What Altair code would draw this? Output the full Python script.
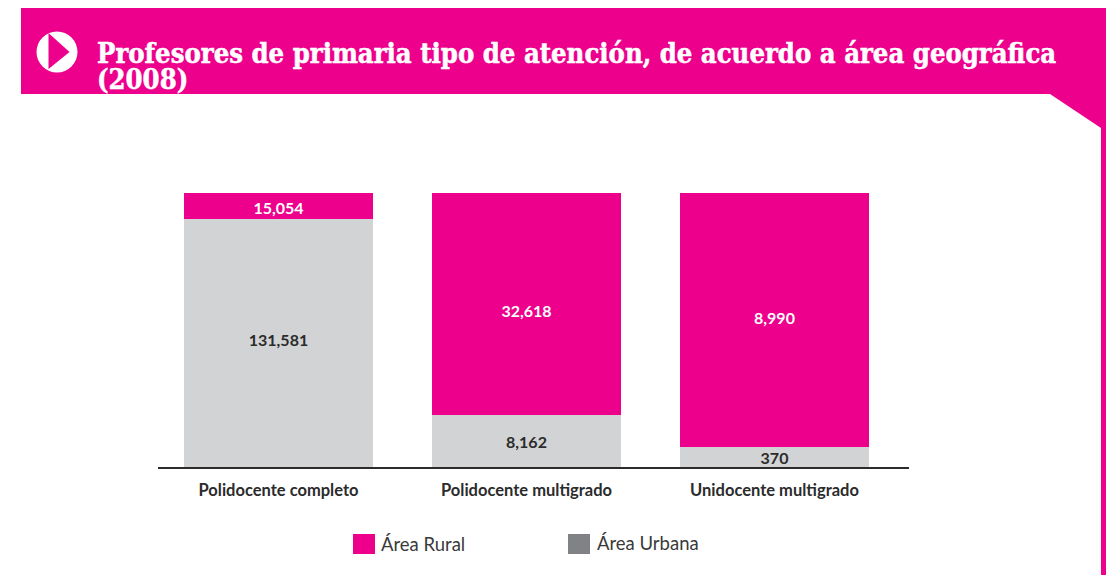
import altair as alt
import pandas as pd

categories = ["Polidocente completo", "Polidocente multigrado", "Unidocente multigrado"]
rural_share = [9.5, 81.0, 92.7]
urban_share = [90.5, 19.0, 7.3]
rural_labels = ["15,054", "32,618", "8,990"]
urban_labels = ["131,581", "8,162", "370"]
title_lines = ["Profesores de primaria tipo de atención, de acuerdo a área geográfica", "(2008)"]
legend_names = ["Área Rural", "Área Urbana"]

PINK = "#ec008c"
BAR_GREY = "#d1d3d4"
LEGEND_GREY = "#808285"
INK = "#2b2b2b"
OX, OY = 8, 8
W, H = 1098, 567
BASE, TOP = 467 - OY, 193 - OY
PX_TO_SHARE = 100 / (BASE - TOP)
rural_nudge_px = [-3, -8, 1]
urban_nudge_px = [2, -2, -2]


def rect(x, x2, y, y2, color):
    return alt.Chart(pd.DataFrame({"a": [0]})).mark_rect(color=color).encode(
        x=alt.value(x - OX), x2=alt.value(x2 - OX), y=alt.value(y - OY), y2=alt.value(y2 - OY))


def wedge(pts, color):
    df = pd.DataFrame(pts, columns=["x", "y", "y2"])
    df["x"] -= OX
    df["y"] -= OY
    df["y2"] -= OY
    return alt.Chart(df).mark_area(color=color, opacity=1).encode(
        x=alt.X("x:Q", scale=None, axis=None),
        y=alt.Y("y:Q", scale=None, axis=None),
        y2="y2:Q")


def label(txt, x, y, size, color, font="Lato", weight="normal", stroke=None, sw=0):
    kw = dict(stroke=stroke, strokeWidth=sw) if stroke else {}
    return alt.Chart(pd.DataFrame({"t": [txt]})).mark_text(
        font=font, fontSize=size, fontWeight=weight, color=color, align="left", baseline="alphabetic", **kw
    ).encode(x=alt.value(x - OX), y=alt.value(y - OY), text="t:N")


header = rect(21, 1114, 8, 94, PINK)
band = rect(1101, 1114, 94, 583, PINK)
corner = wedge([(1050, 94, 94), (1101, 128, 94)], PINK)
icon_disc = alt.Chart(pd.DataFrame({"a": [0]})).mark_point(
    filled=True, color="white", opacity=1, size=1681, shape="circle"
).encode(x=alt.value(57 - OX), y=alt.value(52 - OY))
icon_tri = wedge([(48.5, 33, 69), (69.5, 52, 52)], PINK)
t1 = label(title_lines[0], 97, 63, 27.2, "white", font="DejaVu Serif Condensed", weight="bold", stroke="white", sw=0.5)
t2 = label(title_lines[1], 97, 89, 27.2, "white", font="DejaVu Serif Condensed", weight="bold", stroke="white", sw=0.5)

rows = []
for c, r, u, rl, ul, rn, un in zip(categories, rural_share, urban_share, rural_labels, urban_labels,
                                    rural_nudge_px, urban_nudge_px):
    rows.append(dict(cat=c, area=legend_names[0], share=r, lab=rl, mid=u + r / 2 + rn * PX_TO_SHARE, order=2))
    rows.append(dict(cat=c, area=legend_names[1], share=u, lab=ul, mid=u / 2 + un * PX_TO_SHARE, order=1))
df = pd.DataFrame(rows)

xscale = alt.Scale(type="band", domain=categories, range=[184 - OX, 869 - OX], paddingInner=59 / 248, paddingOuter=0)
yscale = alt.Scale(domain=[0, 100], range=[BASE, TOP])
x = alt.X("cat:N", scale=xscale, axis=None, sort=categories)

bars = alt.Chart(df).mark_bar(size=189).encode(
    x=x,
    y=alt.Y("share:Q", scale=yscale, axis=None, stack="zero"),
    order=alt.Order("order:Q"),
    color=alt.Color("area:N", legend=None,
                    scale=alt.Scale(domain=legend_names, range=[PINK, BAR_GREY])),
)
values = alt.Chart(df).mark_text(font="Lato", fontSize=16, fontWeight="bold").encode(
    x=x,
    y=alt.Y("mid:Q", scale=yscale, axis=None),
    text="lab:N",
    color=alt.Color("area:N", legend=None,
                    scale=alt.Scale(domain=legend_names, range=["white", INK])),
)
cats = alt.Chart(pd.DataFrame({"cat": categories})).mark_text(
    font="Lato", fontSize=16.5, fontWeight="bold", color=INK, baseline="alphabetic"
).encode(x=x, y=alt.value(496 - OY), text="cat:N")
axis_line = rect(158, 909, 467, 469, INK)

leg1 = rect(353, 375, 534, 554, PINK)
leg2 = rect(568, 590, 534, 554, LEGEND_GREY)
leg1t = label(legend_names[0], 381, 551, 18.5, "#3a3a3a", font="Lato", weight=400)
leg2t = label(legend_names[1], 597, 550, 18.5, "#3a3a3a", font="Lato", weight=400)

chart = alt.layer(
    header, band, corner, icon_disc, icon_tri, t1, t2, bars, values, axis_line, cats, leg1, leg2, leg1t, leg2t
).resolve_scale(x="independent", y="independent", color="independent").properties(
    width=W, height=H, padding=0, autosize=alt.AutoSizeParams(type="none"),
).configure_view(stroke=None)

chart.save("out.html", embed_options={"renderer": "svg", "actions": False})
